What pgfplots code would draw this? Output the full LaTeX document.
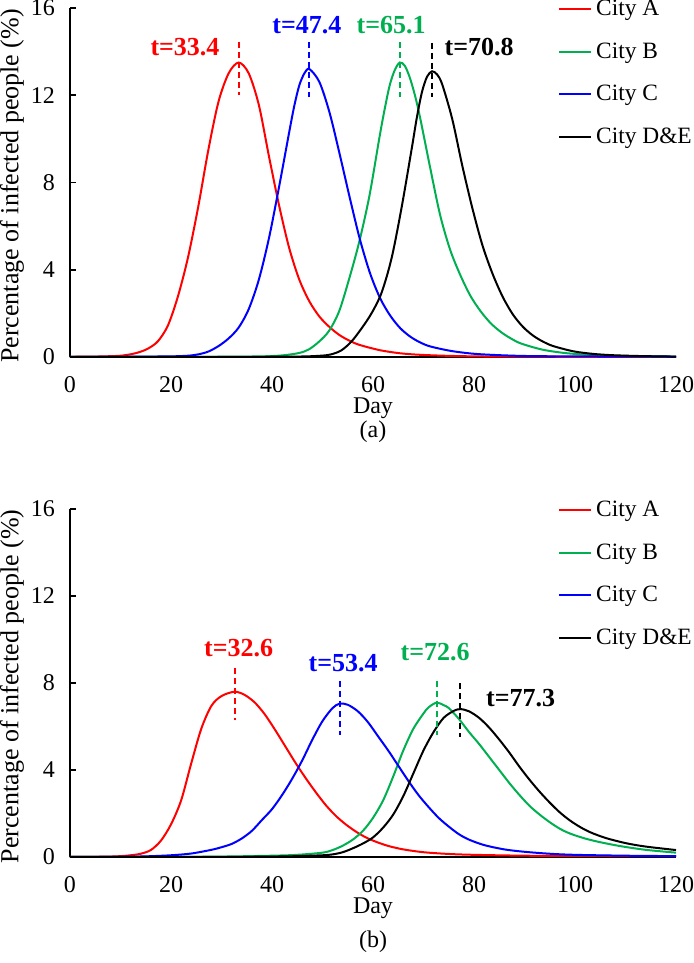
\documentclass[border=0pt]{standalone}
\usepackage{fontspec}
\setmainfont{Liberation Serif}
\usepackage{pgfplots}
\pgfplotsset{compat=1.18}
\definecolor{cgreen}{RGB}{0,176,80}
\newcommand{\fs}{\fontsize{12}{14}\selectfont}
\newcommand{\fl}{\fontsize{11.7}{14}\selectfont}
\newcommand{\fb}{\fontsize{13}{15}\selectfont\bfseries}
\pgfplotsset{
  panel/.style={
    width=303pt, height=174.5pt, scale only axis,
    axis lines=left, axis line style={-, line width=0.8pt},
    xmin=0, xmax=120, ymin=0, ymax=16,
    xtick={0,20,...,120}, ytick={0,4,...,16},
    xtick style={draw=none},
    ytick style={line width=0.8pt, black},
    tick align=inside, major tick length=3pt,
    /pgf/number format/assume math mode=true,
    tick label style={font=\fs},
    xticklabel style={yshift=-6pt},
    yticklabel style={xshift=-4pt},
    label style={font=\fs},
    xlabel={Day},
    ylabel={\fontsize{13}{15}\selectfont Percentage of infected people (\%)},
    xlabel style={at={(axis description cs:0.5,-0.148)}, anchor=center},
    ylabel style={at={(axis description cs:-0.0957,0.49)}, anchor=center},
    legend style={draw=none, fill=none, at={(0.805,1.035)}, anchor=north west,
      row sep=8pt, font=\fl, inner sep=0pt},
    legend cell align=left,
    legend image code/.code={\draw[#1] (0pt,0pt) -- (16pt,0pt);},
    every axis plot/.append style={line width=1pt, smooth, tension=0.5},
  },
  mark/.style={dash pattern=on 3pt off 2pt, line width=0.9pt, forget plot, sharp plot},
}
\begin{document}
\begin{tikzpicture}
\path[use as bounding box] (-35pt,-303pt) rectangle (311.5pt,178.5pt);
% (a)
\begin{axis}[panel, name=a]
\addplot[red] coordinates {(0,0.01) (5,0.02) (9.4,0.05) (11.4,0.1) (13.4,0.2) (15.4,0.38) (17.4,0.72) (19.4,1.45) (21.4,2.8) (23.4,4.6) (25.4,6.9) (27.4,9.5) (29.4,11.7) (31.4,13.0) (33.4,13.5) (35.4,13.0) (37.4,11.55) (39.4,9.2) (41.4,6.95) (43.4,5.0) (45.4,3.55) (47.4,2.55) (49.4,1.85) (51.4,1.37) (53.4,1.0) (55.4,0.74) (57.4,0.55) (61.4,0.31) (65.4,0.17) (69.4,0.1) (75.4,0.05) (83.4,0.02) (100,0.01) (120,0.005)};
\addlegendentry{City A}
\addplot[cgreen] coordinates {(0,0.002) (20,0.005) (35,0.02) (41.3,0.06) (45.3,0.18) (47.3,0.35) (49.3,0.7) (51.3,1.2) (53.3,2.1) (55.3,3.6) (57.3,5.3) (59.3,7.4) (61.3,10.1) (62.3,11.35) (63.3,12.45) (64.3,13.15) (65.3,13.5) (66.3,13.35) (67.3,12.8) (68.3,12.0) (69.3,11.0) (71.3,8.7) (73.3,6.5) (75.3,4.9) (77.3,3.75) (79.3,2.8) (81.3,2.1) (83.3,1.55) (85.3,1.15) (87.3,0.85) (89.3,0.62) (93.3,0.35) (97.3,0.2) (101.3,0.12) (107.3,0.06) (115.3,0.03) (120,0.02)};
\addlegendentry{City B}
\addplot[blue] coordinates {(0,0.003) (10,0.01) (20,0.03) (23.4,0.06) (25.4,0.12) (27.4,0.25) (29.4,0.5) (31.4,0.85) (33.4,1.35) (35.4,2.2) (37.4,3.55) (39.4,5.45) (41.4,7.8) (43.4,10.3) (44.4,11.5) (45.4,12.45) (46.4,13.0) (47.4,13.2) (49.4,12.6) (51.4,11.2) (53.4,9.3) (55.4,7.3) (57.4,5.4) (59.4,3.85) (61.4,2.7) (63.4,1.9) (65.4,1.32) (67.4,0.93) (69.4,0.66) (71.4,0.48) (75.4,0.28) (79.4,0.16) (83.4,0.1) (89.4,0.05) (97.4,0.03) (120,0.01)};
\addlegendentry{City C}
\addplot[black] coordinates {(0,0.001) (30,0.005) (45,0.02) (49.7,0.06) (51.7,0.12) (53.7,0.3) (55.7,0.7) (57.7,1.3) (59.7,2.0) (61.7,2.95) (63.7,4.55) (65.7,6.9) (67.7,9.6) (68.7,11.0) (69.7,12.15) (70.7,12.85) (71.7,13.1) (72.7,12.95) (73.7,12.5) (75.7,10.9) (77.7,8.75) (79.7,6.8) (81.7,5.1) (83.7,3.8) (85.7,2.75) (87.7,1.95) (89.7,1.38) (91.7,0.98) (93.7,0.7) (95.7,0.5) (99.7,0.26) (103.7,0.14) (107.7,0.08) (113.7,0.04) (120,0.02)};
\addlegendentry{City D\&E}
\addplot[red, mark] coordinates {(33.4,14.45) (33.4,12.0)};
\addplot[blue, mark] coordinates {(47.4,14.45) (47.4,11.9)};
\addplot[cgreen, mark] coordinates {(65.3,14.45) (65.3,11.9)};
\addplot[black, mark] coordinates {(71.7,14.4) (71.7,11.9)};
\node[red, font=\fb, anchor=east] at (axis cs:31.0,14.2) {t=33.4};
\node[blue, font=\fb] at (axis cs:46.9,15.2) {t=47.4};
\node[cgreen, font=\fb] at (axis cs:63.6,15.2) {t=65.1};
\node[black, font=\fb, anchor=west] at (axis cs:72.8,14.2) {t=70.8};
\end{axis}
\node[font=\fs] at ([yshift=-37.5pt]a.south) {(a)};
% (b)
\begin{axis}[panel, name=b, at={(0pt,-250pt)}, height=174pt]
\addplot[red] coordinates {(0,0.005) (5,0.01) (8,0.02) (10,0.04) (12,0.08) (14,0.15) (16,0.32) (18,0.75) (20,1.5) (22,2.6) (24,4.3) (26,5.9) (28,6.95) (30,7.4) (32.6,7.6) (34.6,7.45) (36.6,7.1) (38.6,6.55) (40.6,5.85) (42.6,5.1) (44.6,4.35) (46.6,3.65) (48.6,3.0) (50.6,2.4) (52.6,1.9) (54.6,1.5) (56.6,1.17) (58.6,0.9) (60.6,0.7) (63,0.51) (66,0.35) (70,0.22) (75,0.14) (80,0.1) (90,0.06) (100,0.05) (120,0.04)};
\addlegendentry{City A}
\addplot[cgreen] coordinates {(0,0.001) (20,0.005) (30,0.02) (40,0.06) (45,0.1) (50,0.2) (52,0.32) (54,0.52) (56,0.8) (58,1.2) (60,1.8) (62,2.6) (64,3.7) (66,4.9) (68,5.9) (70,6.6) (71,6.88) (72.6,7.1) (74,6.98) (75,6.85) (77,6.35) (79,5.75) (81,5.2) (83,4.6) (85,4.0) (87,3.4) (89,2.85) (91,2.35) (93,1.95) (95,1.6) (97,1.3) (99,1.08) (102,0.85) (105,0.68) (109,0.5) (114,0.33) (120,0.2)};
\addlegendentry{City B}
\addplot[blue] coordinates {(0,0.002) (10,0.01) (15,0.03) (20,0.08) (24,0.16) (28,0.33) (30,0.45) (32,0.6) (34,0.85) (36,1.2) (38,1.7) (40,2.2) (42,2.85) (44,3.6) (46,4.45) (48,5.4) (50,6.25) (52,6.85) (53.4,7.05) (55,7.0) (57,6.7) (59,6.2) (61,5.55) (63,4.9) (65,4.2) (67,3.5) (69,2.85) (71,2.3) (73,1.8) (75,1.4) (77,1.05) (79,0.8) (82,0.55) (86,0.35) (90,0.24) (95,0.15) (100,0.1) (110,0.06) (120,0.04)};
\addlegendentry{City C}
\addplot[black] coordinates {(0,0.001) (30,0.005) (40,0.02) (45,0.04) (50,0.08) (52,0.12) (54,0.22) (56,0.4) (58,0.62) (60,0.9) (62,1.35) (64,1.95) (66,2.8) (68,3.85) (70,4.9) (72,5.75) (74,6.4) (76,6.72) (77.3,6.8) (79,6.7) (81,6.4) (83,5.95) (85,5.4) (87,4.8) (89,4.15) (91,3.55) (93,3.0) (95,2.5) (97,2.05) (99,1.68) (101,1.38) (103,1.14) (106,0.88) (110,0.64) (114,0.48) (120,0.32)};
\addlegendentry{City D\&E}
\addplot[red, mark] coordinates {(32.6,8.7) (32.6,6.3)};
\addplot[blue, mark] coordinates {(53.4,8.1) (53.4,5.6)};
\addplot[cgreen, mark] coordinates {(72.7,8.1) (72.7,5.6)};
\addplot[black, mark] coordinates {(77.3,8.0) (77.3,5.5)};
\node[red, font=\fb] at (axis cs:33.4,9.6) {t=32.6};
\node[blue, font=\fb] at (axis cs:54.1,8.9) {t=53.4};
\node[cgreen, font=\fb] at (axis cs:72.3,9.4) {t=72.6};
\node[black, font=\fb, anchor=west] at (axis cs:81.0,7.3) {t=77.3};
\end{axis}
\node[font=\fs] at ([yshift=-42.5pt]b.south) {(b)};
\end{tikzpicture}
\end{document}
